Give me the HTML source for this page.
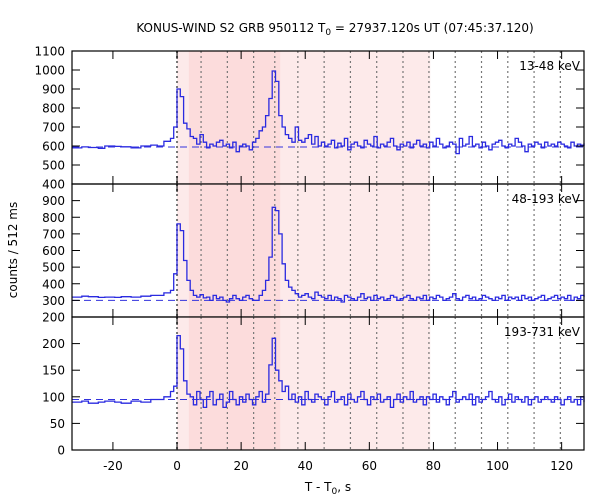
<!DOCTYPE html>
<html><head><meta charset="utf-8"><style>
body{margin:0;background:#fff;}
svg{display:block;font-family:"DejaVu Sans","Liberation Sans",sans-serif;}
</style></head><body>
<svg id="chart" width="600" height="500" viewBox="0 0 600 500">
<text x="335" y="32" text-anchor="middle" font-size="12">KONUS-WIND S2 GRB 950112 T<tspan font-size="9" dy="3">0</tspan><tspan dy="-3"> = 27937.120s UT (07:45:37.120)</tspan></text>
<text transform="translate(17,250) rotate(-90)" text-anchor="middle" font-size="12">counts / 512 ms</text>
<text x="328" y="491" text-anchor="middle" font-size="12">T - T<tspan font-size="9" dy="3">0</tspan><tspan dy="-3">, s</tspan></text>
<g id="plots"></g>
</svg>
<script>
const tStart = -32.768, binW = 1.024;
const xTicks = [-20,0,20,40,60,80,100,120];
const dottedLines = [0,7.5,15.7,23.9,30.5,37.7,45.9,54.1,62.3,70.5,78.6,86.8,95.0,103.2,111.4,119.6];
const band1 = [3.7,32.2];
const band2 = [0,79];
const bandNames = ["13-48 keV","48-193 keV","193-731 keV"];
const bgLevels = [595,300,95];
const yTicks1 = [400,500,600,700,800,900,1000,1100];
const yTicks2 = [200,300,400,500,600,700,800,900];
const yTicks3 = [0,50,100,150,200];
const series1 = [590,590,590,595,595,592,592,592,588,588,600,600,600,598,598,596,596,596,590,590,590,600,600,600,605,605,600,600,
625,625,640,700,
900,860,720,690,650,640,610,660,620,
590,610,600,620,630,600,610,590,620,570,600,610,600,580,620,
640,680,700,760,850,
995,940,760,700,
660,640,620,700,630,620,640,660,610,650,600,
620,600,610,630,590,615,600,640,580,610,620,600,590,630,610,600,650,590,610,600,620,640,600,580,610,600,620,590,610,630,600,610,590,620,600,640,610,590,600,620,610,560,640,600,610,650,600,610,590,620,600,580,610,620,630,600,590,610,600,640,620,600,570,610,600,620,610,590,620,600,610,600,620,610,
600,590,620,600,610,605,615,600];
const series2 = [320,320,320,325,325,322,322,322,318,318,320,320,320,318,318,322,322,322,320,320,320,325,325,325,330,330,330,330,
345,345,360,460,
760,720,540,420,360,330,320,335,315,
320,300,330,310,320,300,290,310,330,310,300,320,330,310,300,
300,330,360,420,560,
860,840,700,520,
420,380,360,340,320,330,340,320,310,350,330,
320,310,330,300,320,310,290,330,320,310,300,320,340,310,320,300,330,310,320,300,310,330,320,300,310,320,330,310,300,320,310,330,300,320,310,330,320,300,310,320,340,310,300,320,330,310,320,300,310,330,320,310,300,320,310,330,300,320,310,320,300,330,310,320,300,310,320,330,300,310,320,330,310,
320,310,330,300,320,310,330,320];
const series3 = [90,90,90,92,92,88,88,88,90,90,92,92,92,90,90,88,88,88,92,92,92,90,90,90,95,95,95,95,
100,100,110,120,
215,190,130,105,100,85,110,95,80,
100,110,85,95,105,80,90,110,95,85,100,90,105,95,85,
100,110,90,105,160,
210,150,130,110,
120,95,105,90,100,85,110,95,90,105,100,
95,85,100,110,90,95,100,85,105,95,90,100,110,95,85,100,95,105,90,95,100,80,95,105,90,100,95,110,90,95,100,85,100,95,105,90,100,95,85,100,110,90,95,100,95,105,85,100,90,95,100,110,95,90,100,85,95,105,90,100,95,90,100,85,95,100,90,95,100,95,90,100,95,
85,95,100,90,95,85,100,90];
const allSeries = [series1,series2,series3];
const yRanges = [[400,1100],[200,1000],[0,250]];
const allTicks = [yTicks1,yTicks2,yTicks3];
const tMin = -32.768, tMax = 126.976;
const L = 72, R = 584;
const panelTops = [51,184,317], panelH = 133;
const NS = "http://www.w3.org/2000/svg";
const root = document.getElementById('plots');
function xs(t){return L + (t - tMin)/(tMax - tMin)*(R-L);}
function mk(tag, attrs, parent){const e=document.createElementNS(NS,tag);for(const k in attrs)e.setAttribute(k,attrs[k]);(parent||root).appendChild(e);return e;}
for(let p=0;p<3;p++){
  const top=panelTops[p], bot=top+panelH, [y0,y1]=yRanges[p];
  const ys=v=>bot-(v-y0)/(y1-y0)*panelH;
  const g=mk('g',{});
  
  
  const b2=mk('rect',{x:xs(band2[0]),y:top,width:xs(band2[1])-xs(band2[0]),height:panelH,fill:'#fdeaea'},g);
  
  
  const b1=mk('rect',{x:xs(band1[0]),y:top,width:xs(band1[1])-xs(band1[0]),height:panelH,fill:'#fcdcdc'},g);
  
  
  dottedLines.forEach((t,i)=>{
    const l=mk('line',{x1:xs(t),x2:xs(t),y1:top,y2:bot,stroke:'#777','stroke-width':i===0?2:1.2,'stroke-dasharray':'2,3'},g);
    
    
  });
  const bl=mk('line',{x1:L,x2:R,y1:ys(bgLevels[p]),y2:ys(bgLevels[p]),stroke:'#3333dd','stroke-width':1,'stroke-dasharray':'7,5'},g);
  
  
  const s=allSeries[p];
  let d='';
  s.forEach((v,i)=>{const xa=Math.min(R,xs(tStart+i*binW)), xb=Math.min(R,xs(tStart+(i+1)*binW)), y=ys(v);
    d+=(i===0?'M':'L')+xa.toFixed(1)+','+y.toFixed(1)+'L'+xb.toFixed(1)+','+y.toFixed(1);});
  const path=mk('path',{d:d,fill:'none',stroke:'#2a2ae0','stroke-width':1.3},g);
  
  
  const fr=mk('rect',{x:L,y:top,width:R-L,height:panelH,fill:'none',stroke:'#000','stroke-width':1.2},g);
  
  
  xTicks.forEach(t=>{
    mk('line',{x1:xs(t),x2:xs(t),y1:top,y2:top+8,stroke:'#000'},g);
    mk('line',{x1:xs(t),x2:xs(t),y1:bot,y2:bot-8,stroke:'#000'},g);
  });
  allTicks[p].forEach(v=>{
    const y=ys(v);
    mk('line',{x1:L,x2:L+8,y1:y,y2:y,stroke:'#000'},g);
    mk('line',{x1:R,x2:R-8,y1:y,y2:y,stroke:'#000'},g);
    const tx=mk('text',{x:L-7,y:y+4.5,'text-anchor':'end','font-size':12},g);
    tx.textContent=v;
    
    
  });
  const lb=mk('text',{x:R-4,y:top+19,'text-anchor':'end','font-size':12},g);
  lb.textContent=bandNames[p];
  
  
}
xTicks.forEach(t=>{
  const tx=mk('text',{x:xs(t),y:470,'text-anchor':'middle','font-size':12});
  tx.textContent=t;
  
  
});
</script>
</body></html>
